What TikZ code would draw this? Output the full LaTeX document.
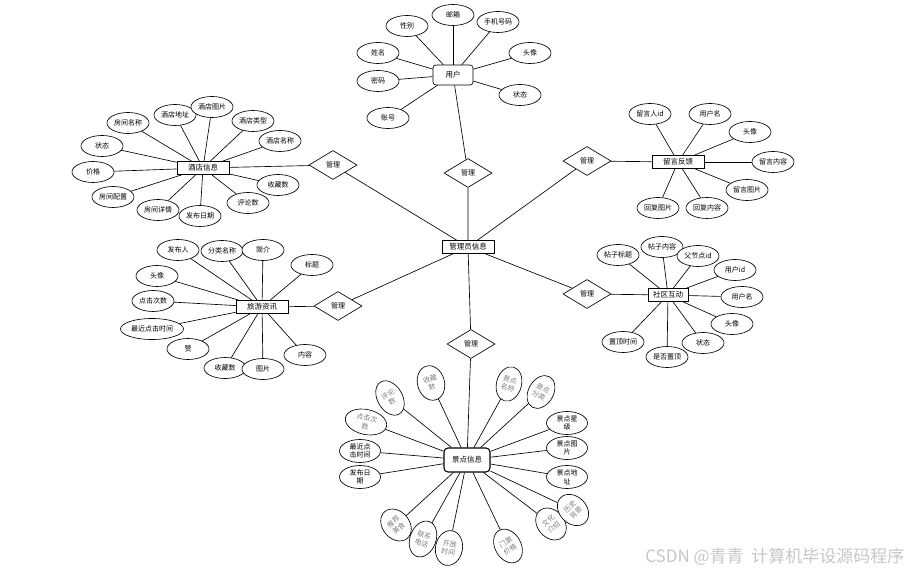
\documentclass[tikz,border=0pt]{standalone}
\usepackage{fontspec}
\setmainfont{Noto Sans CJK SC}
\usetikzlibrary{shapes.geometric}

\begin{document}
\begin{tikzpicture}[x=1pt, y=-1pt, line width=0.65pt,
    attr/.style={ellipse, draw, fill=white, inner sep=0pt, minimum width=42pt, minimum height=21pt, align=center, font=\fontsize{7}{8}\selectfont},
    tilt/.style={ellipse, draw, fill=white, inner sep=0pt, align=center, text=gray, font=\fontsize{7}{8.5}\selectfont},
    ent/.style={rectangle, draw, fill=white, minimum width=52pt, minimum height=13pt, inner sep=1pt, font=\fontsize{7.5}{8}\selectfont},
    rel/.style={diamond, draw, fill=white, minimum width=48pt, minimum height=29pt, inner sep=0pt, font=\fontsize{7}{8}\selectfont}]
    \useasboundingbox (0,0) rectangle (911,572);

    % Entities
    \node[ent, line width=0.9pt] (admin) at (468,247) {管理员信息};
    \node[ent, rounded corners=3pt, minimum width=40pt, minimum height=20pt] (user) at (453,75) {用户};
    \node[ent] (hotel) at (203,168) {酒店信息};
    \node[ent] (feedback) at (678,162) {留言反馈};
    \node[ent] (travel) at (262,307) {旅游资讯};
    \node[ent, minimum width=40pt, line width=0.9pt] (community) at (668,295) {社区互动};
    \node[ent, rounded corners=4pt, minimum width=46pt, minimum height=24pt, line width=1.1pt] (scenic) at (467,460) {景点信息};

    % Relationships
    \foreach \ent/\x/\y in {hotel/333/165, user/468/173, feedback/587/161, travel/338/306, community/587/294, scenic/471/344} {
        \node[rel] (m-\ent) at (\x,\y) {管理};
        \draw (admin) -- (m-\ent) -- (\ent);
    }

    % User attributes
    \foreach \txt/\x/\y [count=\i] in {性别/407/26, 邮箱/453/15, 手机号码/498/22, 姓名/378/53, 头像/530/53, 密码/378/81, 状态/520/95, 账号/388/118} {
        \node[attr] (u\i) at (\x,\y) {\txt};
        \draw (u\i) -- (user);
    }

    % Hotel attributes
    \foreach \txt/\x/\y [count=\i] in {房间名称/128/123, 酒店地址/175/115, 酒店图片/212/107, 酒店类型/253/121, 酒店名称/280/141, 状态/102/146, 价格/93/172, 房间配置/113/197, 房间详情/158/210, 发布日期/200/216, 评论数/248/203, 收藏数/278/185} {
        \node[attr] (h\i) at (\x,\y) {\txt};
        \draw (h\i) -- (hotel);
    }

    % Feedback attributes
    \foreach \txt/\x/\y [count=\i] in {留言人id/650/114, 用户名/710/114, 头像/750/132, 留言内容/773/162, 留言图片/747/190, 回复图片/658/208, 回复内容/707/208} {
        \node[attr] (f\i) at (\x,\y) {\txt};
        \draw (f\i) -- (feedback);
    }

    % Travel attributes
    \foreach \txt/\x/\y/\w [count=\i] in {发布人/178/250/42, 分类名称/222/251/42, 简介/263/250/42, 标题/312/265/42, 头像/157/276/42, 点击次数/153/301/42, 赞/188/349/42, 最近点击时间/152/329/63, 收藏数/225/368/42, 图片/263/369/42, 内容/305/355/42} {
        \node[attr, minimum width=\w] (t\i) at (\x,\y) {\txt};
        \draw (t\i) -- (travel);
    }

    % Community attributes
    \foreach \txt/\x/\y [count=\i] in {帖子标题/618/255, 帖子内容/662/247, 父节点id/698/256, 用户id/735/270, 用户名/742/297, 头像/732/324, 状态/703/343, 是否置顶/667/357, 置顶时间/623/342} {
        \node[attr] (c\i) at (\x,\y) {\txt};
        \draw (c\i) -- (community);
    }

    % Scenic attributes, upright
    \foreach \txt/\x/\y [count=\i] in {最近点\\击时间/360/451, 发布日\\期/360/477, 景点星\\级/567/423, 景点图\\片/567/448, 景点地\\址/567/477} {
        \node[attr, minimum width=41pt, minimum height=23pt, font=\fontsize{7}{8.5}\selectfont] (s\i) at (\x,\y) {\txt};
        \draw (s\i) -- (scenic);
    }

    % Scenic attributes, tilted
    \foreach \txt/\x/\y/\r/\w/\h [count=\i] in {评论\\数/390/398/30/25/37, 收藏\\数/431/383/15/27/35, 点击次\\数/366/422/-12/42/25, 景点\\名称/509/384/-15/25/35, 景点\\分类/541/392/-30/25/35, 推荐\\美食/396/525/40/27/35, 联系\\电话/423/539/-20/26/37, 开放\\时间/449/548/-10/27/35, 门票\\价格/508/546/30/26/36, 文化\\介绍/551/524/40/27/35, 历史\\背景/573/510/45/27/35} {
        \node[tilt, rotate=\r, minimum width=\w, minimum height=\h] (g\i) at (\x,\y) {\txt};
        \draw (g\i) -- (scenic);
    }

    % Watermark
    \node[anchor=east, text=gray!45, font=\fontsize{17}{19}\selectfont] (mark) at (908,557) {CSDN @青青\ \ 计算机毕设源码程序};
\end{tikzpicture}
\end{document}
